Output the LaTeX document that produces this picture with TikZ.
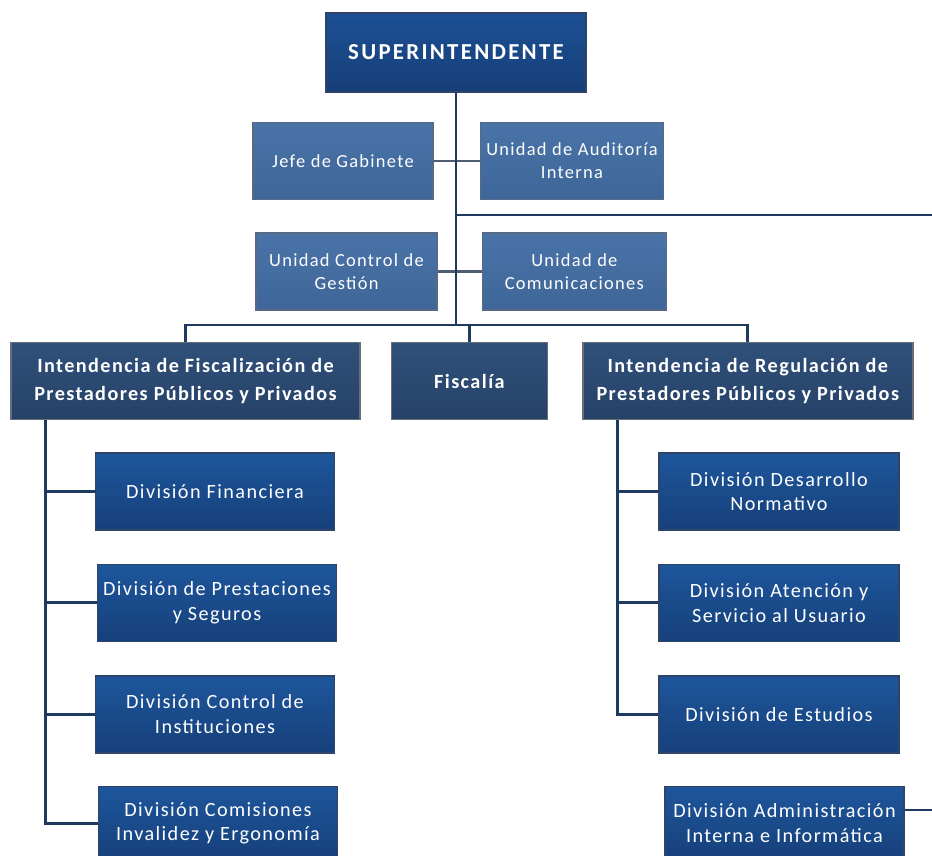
\documentclass[tikz,border=0pt]{standalone}
\usepackage{fontspec}
\setmainfont{Carlito}[LetterSpace=7]
\newfontfamily\headfont{Carlito}[LetterSpace=10]
\usepackage{tikz}
\usetikzlibrary{positioning, calc}
\definecolor{navyline}{HTML}{1F3A60}
\definecolor{sidegray}{HTML}{4E5D72}
\definecolor{boxedge}{HTML}{2E4468}
\tikzset{
  topbox/.style={
    draw=boxedge, line width=0.8pt,
    top color={rgb,255:red,28;green,80;blue,148}, bottom color={rgb,255:red,22;green,62;blue,120},
    text=white, font=\headfont\fontsize{13}{15}\selectfont\bfseries,
    minimum width=5.2cm, minimum height=1.58cm, align=center
  },
  staffbox/.style={
    draw=boxedge!80, line width=0.8pt,
    top color={rgb,255:red,74;green,115;blue,168}, bottom color={rgb,255:red,62;green,102;blue,152},
    text=white, font=\fontsize{10.5}{13}\selectfont,
    minimum height=1.54cm, align=center
  },
  intbox/.style={
    draw=gray!70!boxedge, line width=0.8pt,
    top color={rgb,255:red,48;green,80;blue,122}, bottom color={rgb,255:red,38;green,66;blue,104},
    text=white, font=\fontsize{11.5}{15.5}\selectfont\bfseries,
    minimum height=1.54cm, align=center
  },
  divbox/.style={
    draw=boxedge, line width=0.8pt,
    top color={rgb,255:red,30;green,86;blue,156}, bottom color={rgb,255:red,22;green,64;blue,122},
    text=white, font=\fontsize{11.5}{14}\selectfont,
    minimum width=4.78cm, minimum height=1.54cm, align=center
  },
  link/.style={draw=navyline, line width=1.7pt},
  sidelink/.style={draw=sidegray, line width=1.6pt},
}

\begin{document}
\begin{tikzpicture}
  \useasboundingbox (0,0) rectangle (18.64,-17.12);

  % head and staff units
  \node[topbox] (sup) at (9.12,-1.05) {SUPERINTENDENTE};
  \node[staffbox, minimum width=3.6cm] (jefe) at (6.86,-3.22) {Jefe de Gabinete};
  \node[staffbox, minimum width=3.66cm, right=0.92cm of jefe] (aud) {Unidad de Auditoría\\Interna};
  \node[staffbox, minimum width=3.62cm, below=0.64cm of jefe, xshift=0.07cm] (ctrl) {Unidad Control de\\Gestión};
  \node[staffbox, minimum width=3.68cm, right=0.88cm of ctrl] (comu) {Unidad de\\Comunicaciones};

  % intendencias
  \node[intbox, minimum width=6.98cm] (ifis) at (3.71,-7.62) {Intendencia de Fiscalización de\\Prestadores Públicos y Privados};
  \node[intbox, minimum width=3.12cm, right=0.6cm of ifis] (fisc) {Fiscalía};
  \node[intbox, minimum width=6.6cm, right=0.68cm of fisc] (ireg) {Intendencia de Regulación de\\Prestadores Públicos y Privados};

  % divisiones
  \node[divbox] (fin) at (4.3,-9.83) {División Financiera};
  \node[divbox, below=0.66cm of fin, xshift=0.04cm] (pres) {División de Prestaciones\\y Seguros};
  \node[divbox, below=0.66cm of pres, xshift=-0.04cm] (inst) {División Control de\\Instituciones};
  \node[divbox, minimum height=1.48cm, below=0.64cm of inst, xshift=0.06cm] (comi) {División Comisiones\\Invalidez y Ergonomía};

  \node[divbox, minimum width=4.8cm] (norm) at (15.58,-9.83) {División Desarrollo\\Normativo};
  \node[divbox, minimum width=4.8cm, below=0.66cm of norm] (aten) {División Atención y\\Servicio al Usuario};
  \node[divbox, minimum width=4.8cm, below=0.66cm of aten] (estu) {División de Estudios};
  \node[divbox, minimum height=1.48cm, below=0.64cm of estu, xshift=0.11cm] (adm) {División Administración\\Interna e Informática};

  % connectors
  \coordinate (bus) at (9.12,-6.5);
  \coordinate (edgeA) at (18.64,-4.3);
  \coordinate (edgeB) at (18.64,-16.2);
  \coordinate (ltop) at ([xshift=0.7cm] ifis.south west);
  \coordinate (rtop) at ([xshift=0.7cm] ireg.south west);

  \draw[sidelink] (jefe) -- (aud);
  \draw[sidelink] (ctrl) -- (comu);
  \draw[link] (sup.south) -- (bus);
  \draw[link] (sup.south |- edgeA) -- (edgeA);
  \draw[link] (ifis.north) |- (bus) -| (ireg.north);
  \draw[link] (fisc.north) -- (fisc.north |- bus);

  \draw[link] (ltop) |- (comi.west);
  \draw[link] (ltop |- fin.west) -- (fin.west);
  \draw[link] (ltop |- pres.west) -- (pres.west);
  \draw[link] (ltop |- inst.west) -- (inst.west);

  \draw[link] (rtop) |- (estu.west);
  \draw[link] (rtop |- norm.west) -- (norm.west);
  \draw[link] (rtop |- aten.west) -- (aten.west);
  \draw[link] (adm.east |- edgeB) -- (edgeB);
\end{tikzpicture}
\end{document}
